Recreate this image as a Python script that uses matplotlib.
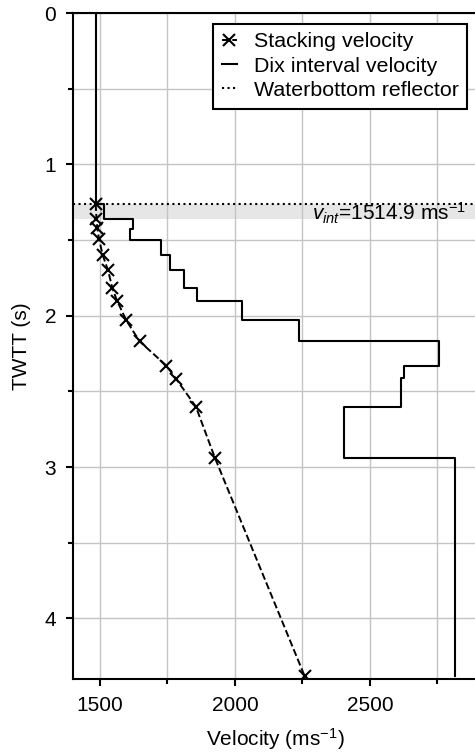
import numpy as np
import matplotlib
matplotlib.use("Agg")
import matplotlib.pyplot as plt
from matplotlib.ticker import MultipleLocator

plt.rcParams['font.family'] = ['Liberation Sans', 'DejaVu Sans']
plt.rcParams['mathtext.fontset'] = 'custom'
plt.rcParams['mathtext.rm'] = 'Liberation Sans'
plt.rcParams['mathtext.it'] = 'Liberation Sans:italic'

# Stacking velocity picks
pick_twtt = [1.26, 1.36, 1.42, 1.49, 1.60, 1.70, 1.82, 1.90, 2.03, 2.17, 2.33, 2.42, 2.60, 2.94, 4.38]
stack_vel = [1484, 1487, 1490, 1496, 1510, 1530, 1546, 1563, 1597, 1647, 1746, 1783, 1855, 1926, 2258]

# Dix interval velocity (layer tops/bottoms and velocities)
layer_bounds = [0.0, 1.26, 1.36, 1.43, 1.50, 1.60, 1.70, 1.82, 1.90, 2.03, 2.17, 2.33, 2.41, 2.60, 2.94, 4.38]
dix_vel = [1484, 1515, 1621, 1610, 1725, 1758, 1810, 1859, 2025, 2236, 2757, 2626, 2616, 2403, 2815]

waterbottom = 1.26
band = (1.26, 1.36)
vint_text = r"$v_{int}$=1514.9 ms$^{-1}$"

fig = plt.figure(figsize=(4.75, 7.56), dpi=100)
ax = fig.add_axes([0.1537, 0.1019, 0.8523, 0.8809])

fs = 15.0

ax.axhspan(band[0], band[1], color='#e6e6e6', zorder=0.5, lw=0)

# step line for Dix velocities
ys = np.repeat(layer_bounds, 2)[1:-1]
xs = np.repeat(dix_vel, 2)
ax.plot(xs, ys, color='black', lw=1.5, label='Dix interval velocity', zorder=3)

ax.plot(stack_vel, pick_twtt, color='black', ls='--', lw=1.4, marker='x',
        markersize=8.5, mew=1.5, label='Stacking velocity', zorder=4)

ax.axhline(waterbottom, color='black', ls=':', lw=1.5, label='Waterbottom reflector', zorder=3)

ax.text(2285, 1.372, vint_text, fontsize=fs, ha='left', va='baseline', zorder=5)

ax.set_xlim(1400, 2900)
ax.set_ylim(4.4, 0)
ax.xaxis.set_major_locator(MultipleLocator(500))
ax.xaxis.set_minor_locator(MultipleLocator(250))
ax.yaxis.set_major_locator(MultipleLocator(1))
ax.yaxis.set_minor_locator(MultipleLocator(0.5))
ax.grid(True, which='both', color='#c4c4c4', lw=1.0, zorder=0)
ax.set_axisbelow(True)

for s in ax.spines.values():
    s.set_linewidth(1.5)
ax.tick_params(which='major', length=5, width=1.5, labelsize=fs, pad=7)
ax.tick_params(which='minor', length=3.5, width=1.5)

ax.set_xlabel(r"Velocity (ms$^{-1}$)", fontsize=fs, labelpad=8)
ax.set_ylabel("TWTT (s)", fontsize=fs, labelpad=10)

h, l = ax.get_legend_handles_labels()
order = [1, 0, 2]
leg = ax.legend([h[i] for i in order], [l[i] for i in order], loc='upper right',
                fontsize=15.4, fancybox=False, framealpha=1, edgecolor='black',
                handlelength=0.7, handletextpad=0.8, labelspacing=0.25,
                borderpad=0.4, borderaxespad=0.5)
leg.get_frame().set_linewidth(1.5)

fig.savefig("out.png", dpi=100)
